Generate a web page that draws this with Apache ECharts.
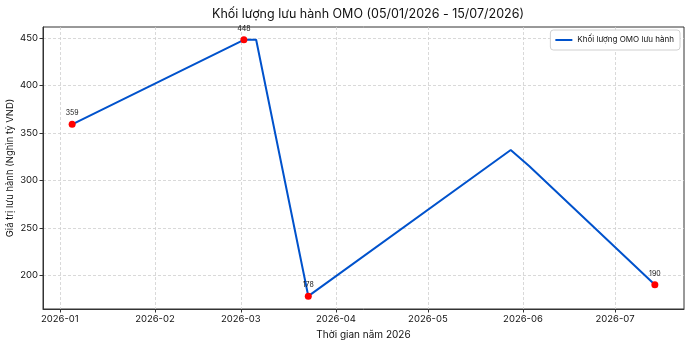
<!DOCTYPE html>
<html>
<head>
<meta charset="utf-8">
<script src="https://cdn.jsdelivr.net/npm/echarts@6/dist/echarts.min.js"></script>
<style>
  html, body { margin: 0; padding: 0; background: #fff; }
  #chart { width: 690px; height: 342px; }
</style>
</head>
<body>
<div id="chart"></div>
<script>
// data
const dates = ['2026-01-05', '2026-03-02', '2026-03-06', '2026-03-23', '2026-05-28', '2026-06-03', '2026-07-14'];
const values = [359, 448, 448, 178, 332, 315, 190];
const markDates = ['2026-01-05', '2026-03-02', '2026-03-23', '2026-07-14'];
const markValues = [359, 448, 178, 190];
const monthTicks = ['2026-01-01', '2026-02-01', '2026-03-01', '2026-04-01', '2026-05-01', '2026-06-01', '2026-07-01'];
const yTicks = [200, 250, 300, 350, 400, 450];

const FONT = 'Inter, "Noto Sans", sans-serif';
const t = s => new Date(s + 'T00:00:00').getTime();

// matplotlib-like 5% margins
const xMin = t(dates[0]), xMax = t(dates[dates.length - 1]);
const xPad = (xMax - xMin) * 0.05;
const yMin = Math.min(...values), yMax = Math.max(...values);
const yPad = (yMax - yMin) * 0.05;

const tickVals = monthTicks.map(t);

let chart = echarts.init(document.getElementById('chart'));
let option = {
  animation: false,
  textStyle: { fontFamily: FONT },
  title: {
    text: 'Khối lượng lưu hành OMO (05/01/2026 - 15/07/2026)',
    left: 363, top: 3, textAlign: 'center',
    textStyle: { fontFamily: FONT, fontSize: 12.5, fontWeight: 'normal', color: '#111' }
  },
  legend: {
    right: 10, top: 30,
    data: ['Khối lượng OMO lưu hành'],
    itemWidth: 17, itemHeight: 2, itemGap: 5,
    padding: [6, 6, 6, 4],
    borderColor: '#d0d0d0', borderWidth: 1, borderRadius: 3,
    backgroundColor: '#fff',
    textStyle: { fontFamily: FONT, fontSize: 8, color: '#111' }
  },
  grid: {
    left: 43, right: 6, top: 27, bottom: 33,
    containLabel: false, outerBoundsMode: 'none',
    show: true, borderColor: '#333', borderWidth: 1
  },
  xAxis: {
    type: 'value',
    min: xMin - xPad, max: xMax + xPad,
    name: 'Thời gian năm 2026',
    nameLocation: 'middle', nameGap: 21, nameMoveOverlap: false,
    nameTextStyle: { fontFamily: FONT, fontSize: 10, color: '#111' },
    axisLine: { show: true, lineStyle: { color: '#333', width: 1 } },
    axisTick: { show: true, length: 3.5, lineStyle: { color: '#333' }, customValues: tickVals },
    axisLabel: {
      customValues: tickVals,
      fontFamily: FONT, fontSize: 9.5, color: '#111', margin: 5,
      formatter: v => {
        const d = new Date(v);
        return d.getFullYear() + '-' + String(d.getMonth() + 1).padStart(2, '0');
      }
    },
    splitLine: { show: true, lineStyle: { color: '#cfcfcf', type: [3, 2], width: 0.8 } }
  },
  yAxis: {
    type: 'value',
    min: yMin - yPad, max: yMax + yPad,
    name: 'Giá trị lưu hành (Nghìn tỷ VND)',
    nameLocation: 'middle', nameGap: 33, nameRotate: 90, nameMoveOverlap: false,
    nameTextStyle: { fontFamily: FONT, fontSize: 9.5, color: '#111', verticalAlign: 'middle' },
    axisLine: { show: true, lineStyle: { color: '#333', width: 1 } },
    axisTick: { show: true, length: 3.5, lineStyle: { color: '#333' }, customValues: yTicks },
    axisLabel: { customValues: yTicks, fontFamily: FONT, fontSize: 9.5, color: '#111', margin: 5 },
    splitLine: { show: true, lineStyle: { color: '#cfcfcf', type: [3, 2], width: 0.8 } }
  },
  series: [
    {
      name: 'Khối lượng OMO lưu hành',
      type: 'line',
      symbol: 'none',
      data: dates.map((d, i) => [t(d), values[i]]),
      lineStyle: { color: '#0052cc', width: 2 },
      itemStyle: { color: '#0052cc' },
      z: 2
    },
    {
      name: 'points',
      type: 'scatter',
      symbolSize: 7,
      data: markDates.map((d, i) => [t(d), markValues[i]]),
      itemStyle: { color: '#ff0000', opacity: 1 },
      label: {
        show: true, position: 'top', distance: 4,
        fontFamily: FONT, fontSize: 7, color: '#111',
        formatter: p => p.value[1]
      },
      z: 3
    }
  ]
};
chart.setOption(option);
</script>
</body>
</html>
